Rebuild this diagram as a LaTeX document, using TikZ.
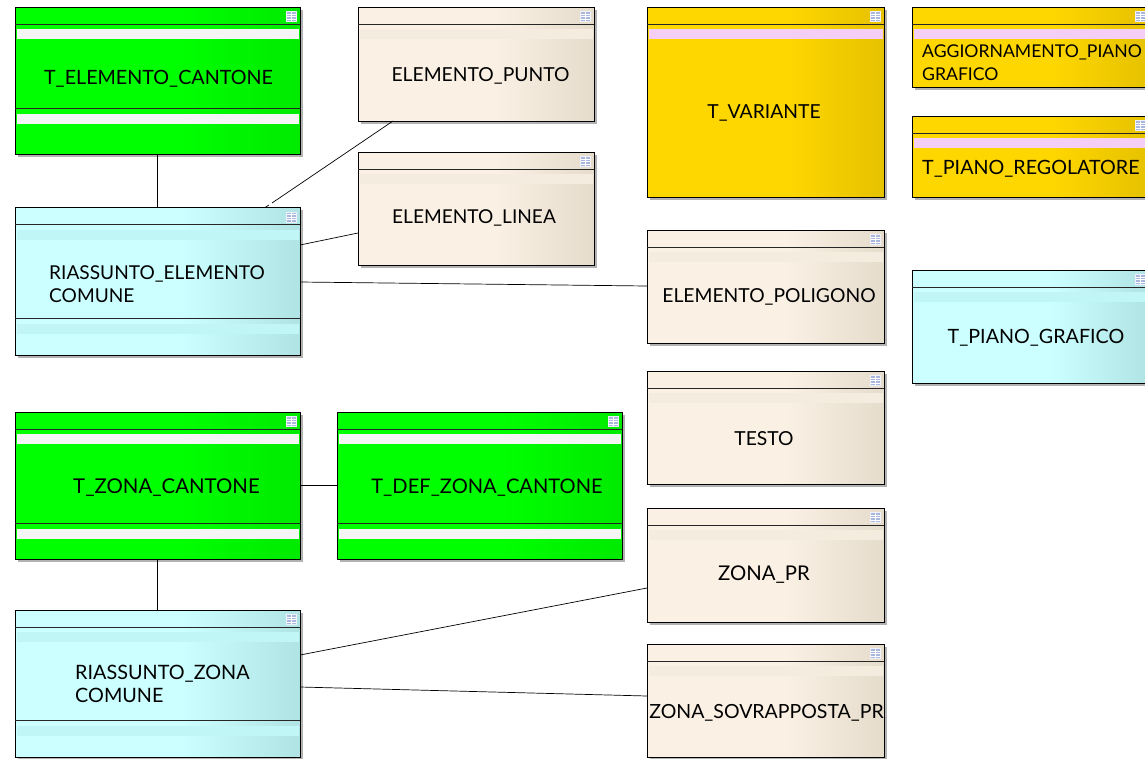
\documentclass[tikz,border=0pt]{standalone}
\usepackage{fontspec}
\setmainfont{Lato}
\usetikzlibrary{backgrounds}
\definecolor{greena}{HTML}{00FF00}
\definecolor{greenb}{HTML}{00EA00}
\definecolor{cyana}{HTML}{CCFFFF}
\definecolor{cyanb}{HTML}{B0E3E3}
\definecolor{creama}{HTML}{FAF0E4}
\definecolor{creamb}{HTML}{E6DCCC}
\definecolor{golda}{HTML}{FFD700}
\definecolor{goldb}{HTML}{E6C200}
\definecolor{greenbar}{HTML}{F5F5F5}
\definecolor{cyanbar}{HTML}{C0F6F6}
\definecolor{creambar}{HTML}{F4ECDF}
\definecolor{goldbar}{HTML}{F5CEF5}
\definecolor{iconblue}{HTML}{A9B7DF}
\pgfdeclarehorizontalshading{greenshade}{100bp}{color(0bp)=(greena); color(54bp)=(greena); color(75bp)=(greenb); color(100bp)=(greenb)}
\pgfdeclarehorizontalshading{cyanshade}{100bp}{color(0bp)=(cyana); color(54bp)=(cyana); color(75bp)=(cyanb); color(100bp)=(cyanb)}
\pgfdeclarehorizontalshading{creamshade}{100bp}{color(0bp)=(creama); color(54bp)=(creama); color(75bp)=(creamb); color(100bp)=(creamb)}
\pgfdeclarehorizontalshading{goldshade}{100bp}{color(0bp)=(golda); color(54bp)=(golda); color(75bp)=(goldb); color(100bp)=(goldb)}
\tikzset{
    tbl/.style={draw=black, line width=1pt, anchor=north west, inner sep=0pt, outer sep=0pt},
    greenbox/.style={tbl, shading=greenshade},
    cyanbox/.style={tbl, shading=cyanshade},
    creambox/.style={tbl, shading=creamshade},
    goldbox/.style={tbl, shading=goldshade},
    sized/.style args={#1x#2}{minimum width=#1pt, minimum height=#2pt},
    lbl/.style={inner sep=0pt, align=left, font=\fontsize{19.3}{23}\selectfont, text=black},
    fs/.style={font=\fontsize{#1}{23}\selectfont},
    tblline/.style={draw=black!85, line width=1pt},
    conn/.style={draw=black, line width=.7pt},
    tblicon/.style={draw=white!80!iconblue, fill=iconblue, line width=.7pt, inner sep=0pt, outer sep=0pt,
        minimum width=10pt, minimum height=10pt,
        path picture={
            \draw[white, line width=.6pt] (path picture bounding box.west) -- (path picture bounding box.east);
            \draw[white, line width=.6pt] ([yshift=2.5pt]path picture bounding box.west) -- ([yshift=2.5pt]path picture bounding box.east);
            \draw[white, line width=.6pt] ([yshift=-2.5pt]path picture bounding box.west) -- ([yshift=-2.5pt]path picture bounding box.east);
            \draw[white, line width=.6pt] (path picture bounding box.north) -- (path picture bounding box.south);
        }},
}
\begin{document}
\begin{tikzpicture}[x=1pt, y=-1pt]
            \useasboundingbox (0,0) rectangle (1145,758);

            \node (elemcant) [greenbox, sized=285x147] at (15,7) {};
            \node (riaselem) [cyanbox, sized=285x147.5] at (15,207.5) {};
            \node (punto) [creambox, sized=236x114] at (358,7) {};
            \node (linea) [creambox, sized=236x113] at (358,152) {};
            \node (variante) [goldbox, sized=237x190] at (647,7) {};
            \node (aggiorn) [goldbox, sized=236.5x80] at (912,7) {};
            \node (regol) [goldbox, sized=236.5x81] at (912,116) {};
            \node (grafico) [cyanbox, sized=236.5x113] at (912,270) {};
            \node (poligono) [creambox, sized=237x113] at (647,230) {};
            \node (testo) [creambox, sized=237x113] at (647,371) {};
            \node (zonapr) [creambox, sized=237x114] at (647,508) {};
            \node (sovrapp) [creambox, sized=237x113] at (647,644) {};
            \node (zonacant) [greenbox, sized=285x147] at (15,412) {};
            \node (defzona) [greenbox, sized=285x147] at (337,412) {};
            \node (riaszona) [cyanbox, sized=285x147] at (15,610) {};

            \foreach \b/\c in {elemcant/greenbar, riaselem/cyanbar, punto/creambar, linea/creambar,
                variante/goldbar, aggiorn/goldbar, regol/goldbar, grafico/cyanbar, poligono/creambar,
                testo/creambar, zonapr/creambar, sovrapp/creambar, zonacant/greenbar, defzona/greenbar,
                riaszona/cyanbar}
            {
                \begin{scope}[on background layer]
                    \fill [black!30] ([xshift=2.5pt,yshift=-2.5pt]\b.south west) rectangle ([xshift=2.5pt,yshift=-2.5pt]\b.north east);
                \end{scope}
                \fill [\c] ([xshift=2pt,yshift=-22pt]\b.north west) rectangle ([xshift=-1.5pt,yshift=-32pt]\b.north east);
                \draw [tblline] ([yshift=-17pt]\b.north west) -- ([yshift=-17pt]\b.north east);
                \node (icon-\b) [tblicon] at ([xshift=-8.5pt,yshift=-9.5pt]\b.north east) {};
            }
            \foreach \b/\c/\off in {elemcant/greenbar/45.5, riaselem/cyanbar/37, zonacant/greenbar/36, defzona/greenbar/36, riaszona/cyanbar/37}
            {
                \fill [\c] ([xshift=2pt,yshift=\off pt-5.5pt]\b.south west) rectangle ([xshift=-1.5pt,yshift=\off pt-15.5pt]\b.south east);
                \draw [tblline] ([yshift=\off pt]\b.south west) -- ([yshift=\off pt]\b.south east);
            }

            \node (t1) [lbl, fs=19.7] at (158.5,79) {T\_ELEMENTO\_CANTONE};
            \node (t2) [lbl, anchor=west, fs=19.1] at (49,284) {RIASSUNTO\_ELEMENTO\\COMUNE};
            \node (t3) [lbl] at (480.5,75.5) {ELEMENTO\_PUNTO};
            \node (t4) [lbl, fs=19.1] at (474,217.5) {ELEMENTO\_LINEA};
            \node (t5) [lbl] at (764,112.5) {T\_VARIANTE};
            \node (t6) [lbl, anchor=west, fs=17.6] at (922,62.5) {AGGIORNAMENTO\_PIANO\\GRAFICO};
            \node (t7) [lbl, anchor=west, fs=19.7] at (922,168.5) {T\_PIANO\_REGOLATORE};
            \node (t8) [lbl, fs=19.7] at (1036,337.5) {T\_PIANO\_GRAFICO};
            \node (t9) [lbl] at (769,296.5) {ELEMENTO\_POLIGONO};
            \node (t10) [lbl] at (764,438.5) {TESTO};
            \node (t11) [lbl, fs=20.3] at (764,574.5) {ZONA\_PR};
            \node (t12) [lbl, fs=19.5] at (766.5,712.5) {ZONA\_SOVRAPPOSTA\_PR};
            \node (t13) [lbl, fs=20.4] at (166.5,487.5) {T\_ZONA\_CANTONE};
            \node (t14) [lbl, fs=20.1] at (487,487.5) {T\_DEF\_ZONA\_CANTONE};
            \node (t15) [lbl, anchor=west, fs=19.8] at (75,684) {RIASSUNTO\_ZONA\\COMUNE};

            \coordinate (gapa) at (272,203);
            \coordinate (gapb) at (269,205);
            \draw [conn] (elemcant.south) -- (riaselem.north);
            \draw [conn] ([xshift=35pt]punto.south west) -- (gapa);
            \draw [conn] (gapb) -- ([xshift=-35pt]riaselem.north east);
            \draw [conn] ([yshift=-37.5pt]riaselem.north east) -- ([yshift=-81pt]linea.north west);
            \draw [conn] ([yshift=-74.5pt]riaselem.north east) -- ([yshift=-56pt]poligono.north west);
            \draw [conn] (zonacant.east) -- (defzona.west);
            \draw [conn] (zonacant.south) -- (riaszona.north);
            \draw [conn] ([yshift=-45pt]riaszona.north east) -- ([yshift=-80pt]zonapr.north west);
            \draw [conn] ([yshift=-77pt]riaszona.north east) -- ([yshift=-52pt]sovrapp.north west);
    \end{tikzpicture}
\end{document}
